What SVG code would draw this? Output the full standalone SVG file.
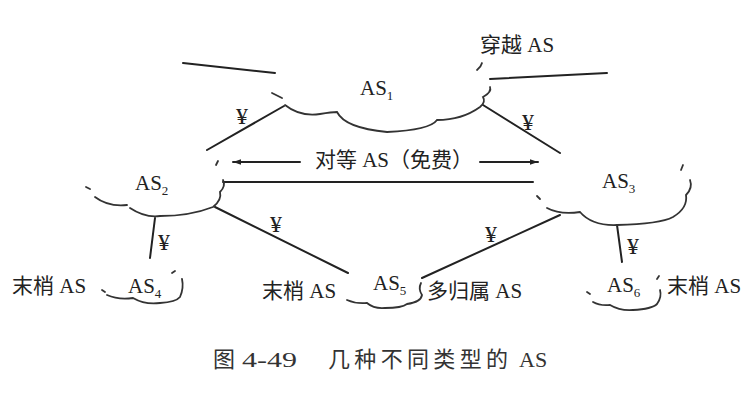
<svg xmlns="http://www.w3.org/2000/svg" width="755" height="418" viewBox="0 0 755 418">
<defs>
<style>
.t{font-family:"Liberation Serif","Times New Roman","Noto Sans CJK SC",serif;font-size:21px;fill:#222}
.sub{font-size:13px}
.cap{font-family:"Liberation Serif","Times New Roman","Noto Sans CJK SC",serif;font-size:22px;fill:#333}
.ln{stroke:#222;stroke-width:2;fill:none;stroke-linecap:round}
.cl{stroke:#333;stroke-width:1.8;fill:none;stroke-linecap:round}
.yen{font-family:"Liberation Serif","Times New Roman",serif;font-size:24px;fill:#222}
</style>
<marker id="ah" viewBox="0 0 10 10" refX="10" refY="5" markerWidth="10" markerHeight="8" markerUnits="userSpaceOnUse" orient="auto-start-reverse">
<path d="M0,1.5 L10,5 L0,8.5 Z" fill="#222"/>
</marker>
</defs>
<rect width="755" height="418" fill="#fff"/>

<g id="connectors">
<line class="ln" x1="183" y1="63" x2="275" y2="73"/>
<line class="ln" x1="490" y1="79" x2="607" y2="73"/>
<line class="ln" x1="284" y1="106" x2="207" y2="150"/>
<line class="ln" x1="483" y1="105" x2="560" y2="153"/>
<line class="ln" x1="233" y1="162" x2="300" y2="162" marker-start="url(#ah)"/>
<line class="ln" x1="480" y1="162" x2="538" y2="162" marker-end="url(#ah)"/>
<line class="ln" x1="223" y1="182" x2="533" y2="182"/>
<line class="ln" x1="215" y1="207" x2="348" y2="273"/>
<line class="ln" x1="560" y1="215" x2="422" y2="278"/>
<line class="ln" x1="155" y1="218" x2="150" y2="258"/>
<line class="ln" x1="617" y1="225" x2="622" y2="262"/>
<text class="yen" x="236" y="124">¥</text>
<text class="yen" x="522" y="130">¥</text>
<text class="yen" x="270" y="232">¥</text>
<text class="yen" x="485" y="242">¥</text>
<text class="yen" x="158" y="250">¥</text>
<text class="yen" x="627" y="254">¥</text>
<text class="t" x="394" y="167" text-anchor="middle">对等 AS（免费）</text>
</g>

<g id="as1">
<path class="cl" d="M272,93 L282,98"/>
<path class="cl" d="M285,105 Q300,117 320,114 Q332,112 337,112 Q345,128 387,132 Q430,130 437,120 Q462,120 480,107 Q486,102 483,97 Q492,92 490,87"/>
<path class="cl" d="M477,70 Q481,67 482,63"/>
<text class="t" x="360" y="95">AS<tspan class="sub" dy="5">1</tspan></text>
<text class="t" x="480" y="52">穿越 AS</text>
</g>

<g id="as2">
<path class="cl" d="M86,187 L90,189"/>
<path class="cl" d="M95,197 Q108,207 127,205"/>
<path class="cl" d="M130,208 Q145,218 160,216 Q190,216 213,207 Q222,200 220,192 Q226,186 223,180"/>
<path class="cl" d="M216,165 L218,161"/>
<text class="t" x="135" y="190">AS<tspan class="sub" dy="5">2</tspan></text>
</g>

<g id="as3">
<path class="cl" d="M537,196 L540,199"/>
<path class="cl" d="M547,208 Q560,215 580,212 Q592,226 617,225 Q660,224 673,217 Q688,208 686,195 Q693,188 690,180"/>
<path class="cl" d="M681,170 L683,165"/>
<text class="t" x="602" y="188">AS<tspan class="sub" dy="5">3</tspan></text>
</g>

<g id="as4">
<path class="cl" d="M102,290 L105,292"/>
<path class="cl" d="M107,295 Q118,300 133,298 Q145,305 160,303 Q176,302 180,297 Q184,288 182,279"/>
<path class="cl" d="M172,273 L175,271"/>
<text class="t" x="12" y="293">末梢 AS</text>
<text class="t" x="128" y="293">AS<tspan class="sub" dy="5">4</tspan></text>
</g>

<g id="as5">
<path class="cl" d="M347,300 Q356,304 367,303 Q374,309 385,308 Q402,308 407,304 Q421,302 422,295 Q418,289 421,283"/>
<text class="t" x="262" y="298">末梢 AS</text>
<text class="t" x="373" y="290">AS<tspan class="sub" dy="5">5</tspan></text>
<text class="t" x="427" y="298">多归属 AS</text>
</g>

<g id="as6">
<path class="cl" d="M587,292 L590,294"/>
<path class="cl" d="M593,302 Q600,306 610,305 Q620,311 633,310 Q652,309 657,304 Q662,297 660,290"/>
<path class="cl" d="M657,279 L659,276"/>
<text class="t" x="607" y="292">AS<tspan class="sub" dy="5">6</tspan></text>
<text class="t" x="667" y="293">末梢 AS</text>
</g>

<g id="caption">
<text class="cap" x="213" y="367">图</text>
<text class="cap" x="242" y="367" textLength="55" lengthAdjust="spacingAndGlyphs">4-49</text>
<text class="cap" x="328" y="367" textLength="180" lengthAdjust="spacing">几种不同类型的</text>
<text class="cap" x="519" y="367">AS</text>
</g>
</svg>
